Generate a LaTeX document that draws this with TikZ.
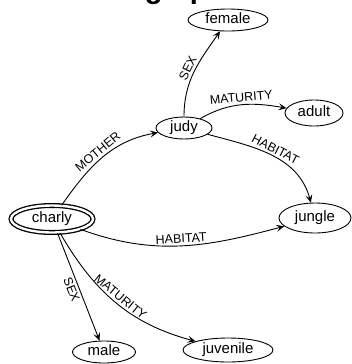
\documentclass[tikz,border=0pt]{standalone}
\usepackage{fontspec}
\setmainfont{Liberation Sans}
\usetikzlibrary{arrows.meta,shapes.geometric}

\begin{document}
\begin{tikzpicture}[x=1bp, y=-1bp, line width=0.9bp,
    main/.style = {draw, ellipse, inner sep=1bp, font=\fontsize{15bp}{16bp}\selectfont, text height=10.5bp, text depth=3bp},
    rel/.style = {font=\fontsize{12.5bp}{13bp}\selectfont, inner sep=2.5bp},
    link/.style = {-{Stealth[length=8bp, width=7bp, inset=3.5bp]}}]
    \useasboundingbox (0,0) rectangle (352,364);
    \node[font=\fontsize{29bp}{30bp}\selectfont\bfseries, anchor=base west] (title) at (141,-2) {graph};

    \node[main, minimum width=80bp, minimum height=22bp] (female) at (228,20) {female};
    \node[main, minimum width=58bp, minimum height=26bp] (adult) at (314,113) {adult};
    \node[main, minimum width=56bp, minimum height=22bp] (judy) at (184,128) {judy};
    \node[main, double, line width=1.3bp, double distance=2.4bp, minimum width=82bp, minimum height=27bp] (charly) at (52,219) {charly};
    \node[main, minimum width=72bp, minimum height=30bp] (jungle) at (315,218) {jungle};
    \node[main, minimum width=63bp, minimum height=22bp] (male) at (104,352) {male};
    \node[main, minimum width=90bp, minimum height=24bp] (juvenile) at (228,350) {juvenile};

    \draw[link] (charly) to[out=55, in=190] node[rel, midway, sloped, above] {MOTHER} (judy);
    \draw[link] (judy) to[out=90, in=235] node[rel, midway, sloped, above] {SEX} (female);
    \draw[link] (judy) to[out=30, in=170] node[rel, midway, sloped, above] {MATURITY} (adult);
    \draw[link] (judy) to[out=-15, in=105] node[rel, midway, sloped, above] {HABITAT} (jungle);
    \draw[link] (charly) to[out=-20, in=195] node[rel, midway, sloped, above] {HABITAT} (jungle);
    \draw[link] (charly) -- node[rel, midway, sloped, below] {SEX} (male);
    \draw[link] (charly) to[out=-60, in=165] node[rel, midway, sloped, above] {MATURITY} (juvenile);
\end{tikzpicture}
\end{document}
